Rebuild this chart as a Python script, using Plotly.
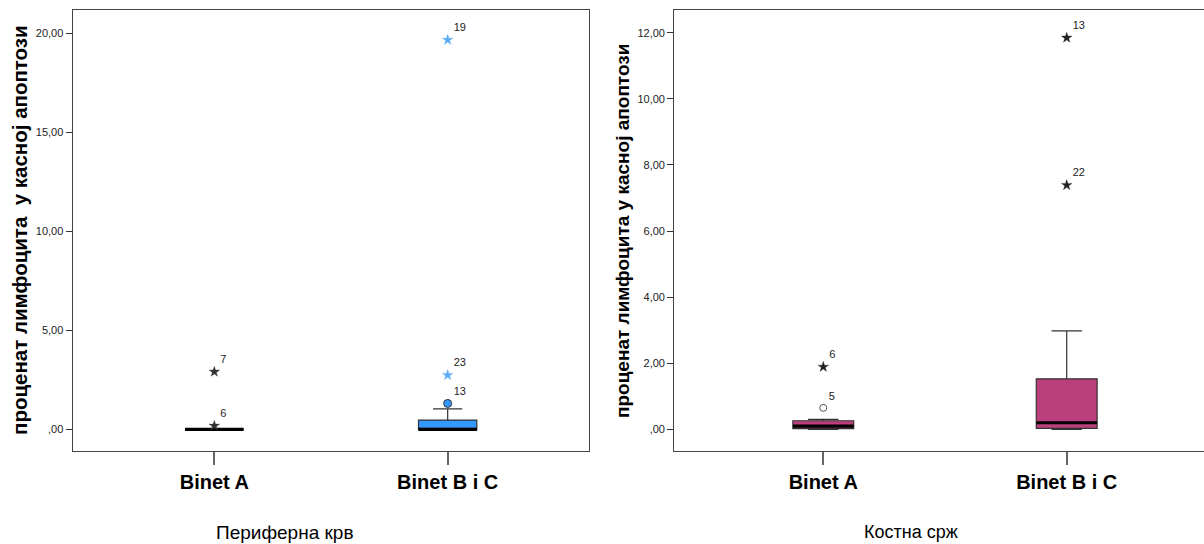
import plotly.graph_objects as go

# ---------------- data ----------------
categories = ["Binet A", "Binet B i C"]

# Периферна крв (left panel)
pb_q1 = [0.0, 0.0]
pb_median = [0.0, 0.0]
pb_q3 = [0.0, 0.47]
pb_low = [0.0, 0.0]
pb_high = [0.0, 1.04]
pb_out_cat = ["Binet A", "Binet A", "Binet B i C", "Binet B i C", "Binet B i C"]
pb_out_val = [0.18, 2.91, 1.31, 2.74, 19.66]
pb_out_lab = ["6", "7", "13", "23", "19"]
pb_out_kind = ["extreme", "extreme", "outlier", "extreme", "extreme"]

# Костна срж (right panel)
bm_q1 = [0.02, 0.03]
bm_median = [0.10, 0.20]
bm_q3 = [0.26, 1.53]
bm_low = [0.0, 0.0]
bm_high = [0.30, 2.98]
bm_out_cat = ["Binet A", "Binet A", "Binet B i C", "Binet B i C"]
bm_out_val = [0.65, 1.89, 7.39, 11.85]
bm_out_lab = ["5", "6", "22", "13"]
bm_out_kind = ["outlier", "extreme", "extreme", "extreme"]

pb_ticks = [0, 5, 10, 15, 20]
pb_ticktext = [",00", "5,00", "10,00", "15,00", "20,00"]
bm_ticks = [0, 2, 4, 6, 8, 10, 12]
bm_ticktext = [",00", "2,00", "4,00", "6,00", "8,00", "10,00", "12,00"]

title_left_y = "проценат лимфоцита  у касној апоптози"
title_right_y = "проценат лимфоцита у касној апоптози"
title_left_x = "Периферна крв"
title_right_x = "Костна срж"

# ---------------- style ----------------
FONT = "Arial, 'Liberation Sans', sans-serif"
BLUE = "#3399ff"
LIGHTBLUE = "#5aaaf5"
MAGENTA = "#bb3f7d"
EDGE = "#333333"
SYMBOL_SCALE = 1.41  # plotly draws line-ew with half-length 1.41*size/2

fig = go.Figure()


def add_panel(xa, ya, q1, med, q3, lo, hi, fill, box_px,
              out_cat, out_val, out_lab, out_kind, star_colors):
    fig.add_trace(go.Box(
        x=categories, q1=q1, median=med, q3=q3,
        lowerfence=lo, upperfence=hi,
        boxpoints=False, width=0.25, whiskerwidth=0.5,
        fillcolor=fill, line=dict(color=EDGE, width=1.2),
        xaxis=xa, yaxis=ya, showlegend=False, hoverinfo="skip"))
    # thick median line
    fig.add_trace(go.Scatter(
        x=categories, y=med, mode="markers",
        marker=dict(symbol="line-ew", size=box_px / SYMBOL_SCALE,
                    line=dict(color="black", width=3.2)),
        xaxis=xa, yaxis=ya, showlegend=False, hoverinfo="skip"))
    # outliers
    for c, v, lab, k in zip(out_cat, out_val, out_lab, out_kind):
        if k == "extreme":
            col = star_colors[c]
            marker = dict(symbol="star", size=8, color=col,
                          line=dict(color=col, width=0.3))
        else:
            marker = star_colors["circle_" + c]
        fig.add_trace(go.Scatter(
            x=[c], y=[v], mode="markers+text", text=[lab],
            textposition="top right",
            textfont=dict(family=FONT, size=11, color="#222222"),
            marker=marker, xaxis=xa, yaxis=ya,
            showlegend=False, hoverinfo="skip", cliponaxis=False))


add_panel("x", "y", pb_q1, pb_median, pb_q3, pb_low, pb_high, BLUE, 59,
          pb_out_cat, pb_out_val, pb_out_lab, pb_out_kind,
          {"Binet A": "#333333", "Binet B i C": LIGHTBLUE,
           "circle_Binet B i C": dict(symbol="circle", size=8, color=BLUE,
                                      line=dict(color=EDGE, width=1))})
add_panel("x2", "y2", bm_q1, bm_median, bm_q3, bm_low, bm_high, MAGENTA, 61,
          bm_out_cat, bm_out_val, bm_out_lab, bm_out_kind,
          {"Binet A": "#222222", "Binet B i C": "#222222",
           "circle_Binet A": dict(symbol="circle-open", size=7, color="#555555",
                                  line=dict(color="#555555", width=1))})

W, H = 1204, 544
ydom = [(H - 451) / H, (H - 10) / H]

xcommon = dict(type="category", categoryorder="array", categoryarray=categories,
               showline=True, linecolor="#444444", linewidth=1.3, mirror=True,
               ticks="outside", ticklen=13, tickcolor="#666666", tickwidth=1.5,
               tickfont=dict(family=FONT, size=20, color="black", weight="bold"),
               showgrid=False, zeroline=False, fixedrange=True)
ycommon = dict(showline=True, linecolor="#444444", linewidth=1.3,
               ticks="outside", ticklen=6, tickcolor="#333333", tickwidth=1,
               tickfont=dict(family=FONT, size=11, color="#222222"),
               showgrid=False, zeroline=False, fixedrange=True)

fig.update_layout(
    width=W, height=H, margin=dict(l=0, r=0, t=0, b=0),
    paper_bgcolor="white", plot_bgcolor="white",
    font=dict(family=FONT),
    xaxis=dict(xcommon, domain=[72.7 / W, 589.3 / W], range=[-0.607, 1.607],
               anchor="y"),
    yaxis=dict(ycommon, domain=ydom, range=[-1.09, 21.17], mirror=True,
               tickvals=pb_ticks, ticktext=pb_ticktext, anchor="x"),
    xaxis2=dict(xcommon, domain=[674.3 / W, 1.0], range=[-0.612, 1.564],
                anchor="y2"),
    yaxis2=dict(ycommon, domain=ydom, range=[-0.655, 12.69], mirror=False,
                tickvals=bm_ticks, ticktext=bm_ticktext, anchor="x2"),
    annotations=[
        dict(text=title_left_y, textangle=-90, x=19 / W, y=(H - 230) / H,
             xanchor="center", yanchor="middle",
             xref="paper", yref="paper", showarrow=False,
             font=dict(family=FONT, size=20.5, color="black", weight="bold")),
        dict(text=title_right_y, textangle=-90, x=622 / W, y=(H - 231) / H,
             xanchor="center", yanchor="middle",
             xref="paper", yref="paper", showarrow=False,
             font=dict(family=FONT, size=19, color="black", weight="bold")),
        dict(text=title_left_x, x=284 / W, y=(H - 532) / H,
             xanchor="center", yanchor="middle",
             xref="paper", yref="paper", showarrow=False,
             font=dict(family=FONT, size=19, color="black")),
        dict(text=title_right_x, x=911 / W, y=(H - 532) / H,
             xanchor="center", yanchor="middle",
             xref="paper", yref="paper", showarrow=False,
             font=dict(family=FONT, size=18, color="black")),
    ],
)

fig.write_html("out.html", config={"displayModeBar": False},
               post_script="document.body.style.margin='0';")
